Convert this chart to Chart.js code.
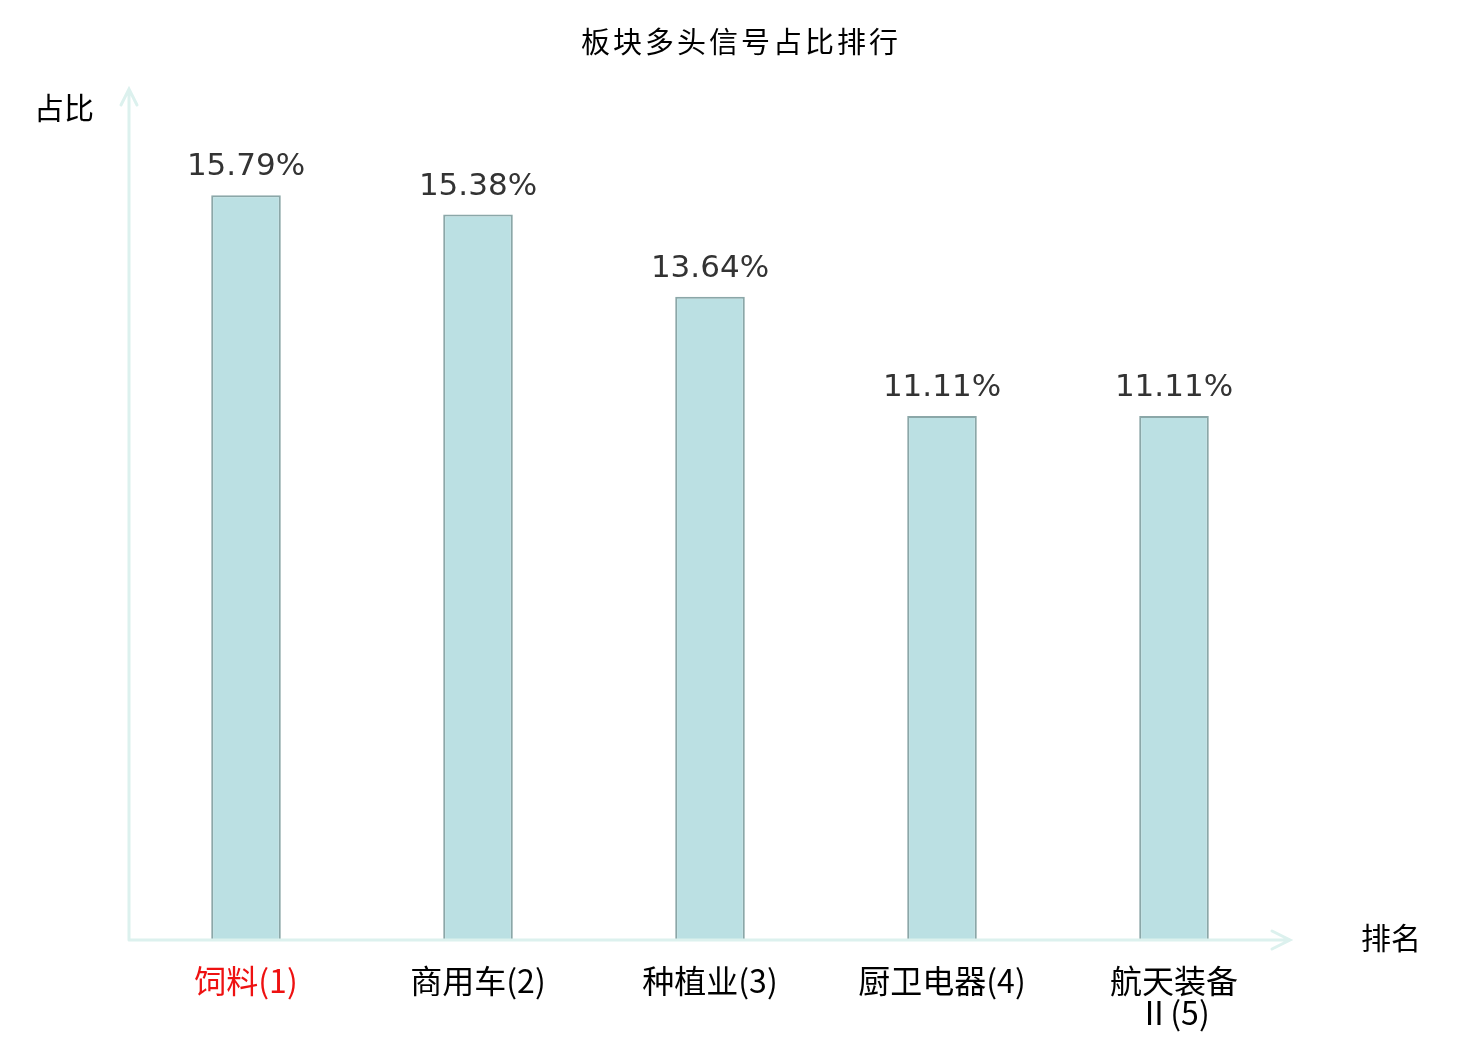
<!DOCTYPE html>
<html>
<head>
<meta charset="utf-8">
<script src="https://cdn.jsdelivr.net/npm/chart.js@4/dist/chart.umd.min.js"></script>
<style>
  body { margin: 0; background: #fff; }
  #box { width: 1480px; height: 1040px; }
</style>
</head>
<body>
<div id="box"><canvas id="myChart" width="1480" height="1040"></canvas></div>
<script>
// data
const categories = ["饲料(1)", "商用车(2)", "种植业(3)", "厨卫电器(4)", ["航天装备", "Ⅱ(5)"]];
const shares = [15.79, 15.38, 13.64, 11.11, 11.11];
const valueLabels = ["15.79%", "15.38%", "13.64%", "11.11%", "11.11%"];
const tickColors = ["#ee1111", "#000", "#000", "#000", "#000"];

const chartTitle = "板块多头信号占比排行";
const yName = "占比";
const xName = "排名";

const cjk = "'DejaVu Sans', 'Noto Sans CJK SC', sans-serif";
const axisColor = "#dcf1ee";

//draws axis arrows, names, title and value labels
const decorations = {
  id: "decorations",
  afterDraw(chart) {
    const ctx = chart.ctx;
    const area = chart.chartArea;
    const x0 = area.left - 1, y0 = area.bottom;
    ctx.save();
    ctx.strokeStyle = axisColor;
    ctx.lineWidth = 3;
    ctx.lineCap = "round";
    ctx.beginPath();
    ctx.moveTo(x0, y0);
    ctx.lineTo(x0, area.top - 2);
    ctx.moveTo(x0 - 8, area.top + 14);
    ctx.lineTo(x0, area.top - 2);
    ctx.lineTo(x0 + 8, area.top + 14);
    ctx.moveTo(x0, y0);
    ctx.lineTo(area.right, y0);
    ctx.moveTo(area.right - 18, y0 - 9);
    ctx.lineTo(area.right, y0);
    ctx.lineTo(area.right - 18, y0 + 9);
    ctx.stroke();

    ctx.fillStyle = "#000";
    ctx.textBaseline = "middle";
    ctx.font = "29px " + cjk;
    ctx.textAlign = "left";
    ctx.letterSpacing = "3px";
    ctx.fillText(chartTitle, 581, 45);
    ctx.letterSpacing = "0px";
    ctx.font = "30px " + cjk;
    ctx.fillText(yName, 34, 111);
    ctx.fillText(xName, 1361, 941);

    // value labels above bars
    ctx.fillStyle = "#333";
    ctx.textAlign = "center";
    ctx.textBaseline = "alphabetic";
    ctx.font = "31px " + cjk;
    chart.getDatasetMeta(0).data.forEach((bar, i) => {
      ctx.fillText(valueLabels[i], bar.x, bar.y - 20);
    });
    ctx.restore();
  }
};

const ctx1 = document.getElementById("myChart");

new Chart(ctx1, {
  type: "bar",
  data: {
    labels: categories,
    datasets: [{
      data: shares,
      backgroundColor: "#bbe0e3",
      borderColor: "#8ba7a8",
      borderWidth: 2,
      categoryPercentage: 1,
      barPercentage: 0.30
    }]
  },
  options: {
    responsive: false,
    animation: false,
    layout: { padding: { left: 130, right: 190, top: 91, bottom: 0 } },
    plugins: {
      legend: { display: false },
      title: { display: false },
      tooltip: { enabled: false }
    },
    scales: {
      x: {
        grid: { display: false, drawTicks: false },
        border: { display: false },
        afterFit(scale) { scale.height = 100; },
        ticks: {
          padding: 25,
          maxRotation: 0,
          autoSkip: false,
          color: tickColors,
          font: { size: 32, family: "'Noto Sans CJK SC', sans-serif", lineHeight: 1.0 }
        }
      },
      y: {
        display: false,
        min: 0,
        max: 18
      }
    }
  },
  plugins: [decorations]
});
</script>
</body>
</html>
